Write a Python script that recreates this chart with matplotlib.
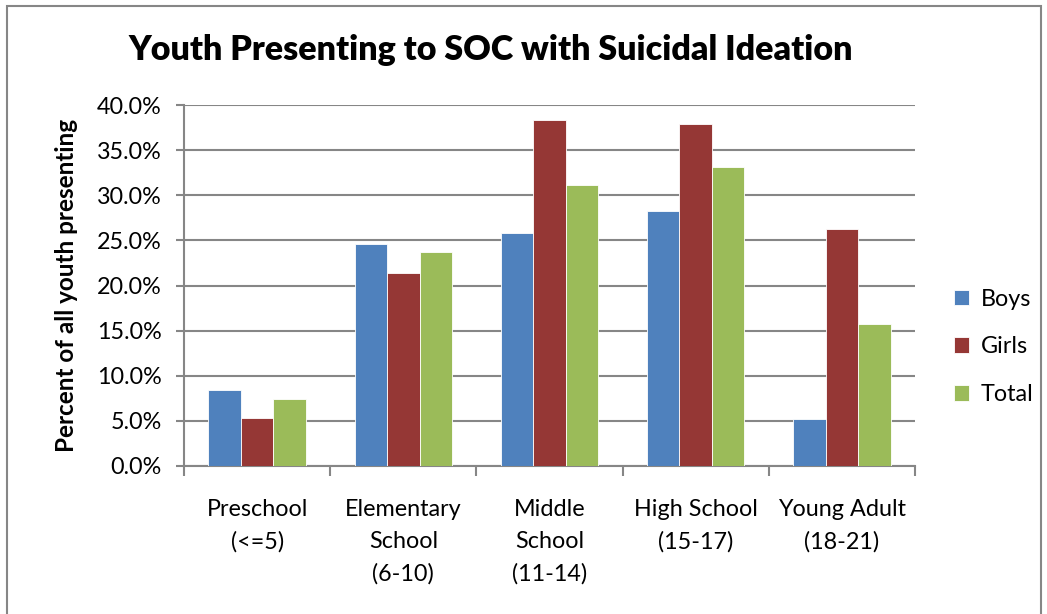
import matplotlib

matplotlib.use("Agg")
import matplotlib.pyplot as plt  # noqa: E402
import numpy as np  # noqa: E402
from matplotlib.patches import Rectangle  # noqa: E402
from matplotlib.ticker import FuncFormatter, MultipleLocator  # noqa: E402

# data (percent of all youth presenting)
categories = ["Preschool\n(<=5)", "Elementary\nSchool\n(6-10)",
              "Middle\nSchool\n(11-14)", "High School\n(15-17)",
              "Young Adult\n(18-21)"]
boys = [8.4, 24.6, 25.8, 28.3, 5.2]
girls = [5.3, 21.4, 38.3, 37.9, 26.3]
total = [7.4, 23.7, 31.1, 33.1, 15.7]

series = [("Boys", boys, "#4f81bd"), ("Girls", girls, "#953735"),
          ("Total", total, "#9bbb59")]

GRID = "#868686"
FONT = ["Lato", "DejaVu Sans"]
plt.rcParams["font.family"] = FONT
FS = 16.8

W, H = 1047, 614
fig = plt.figure(figsize=(W / 100, H / 100), dpi=100)
ax = fig.add_axes([184 / W, 1 - 466 / H, (915 - 184) / W, (466 - 105) / H])

x = np.arange(len(categories))
width = 2 / 9
for i, (name, vals, color) in enumerate(series):
    ax.bar(x + (i - 1) * width, vals, width, color=color, label=name,
           edgecolor="white", linewidth=0.6, zorder=3)

ax.set_xlim(-0.5, len(categories) - 0.5)
ax.set_ylim(0, 40)
ax.yaxis.set_major_locator(MultipleLocator(5))
ax.yaxis.set_major_formatter(FuncFormatter(lambda v, _: f"{v:.1f}%"))
ax.grid(axis="y", color=GRID, linewidth=1.5, zorder=0)
ax.set_axisbelow(True)

# category boundaries get the tick marks, labels sit in the middle
ax.set_xticks(np.arange(len(categories) + 1) - 0.5)
ax.set_xticklabels([])
ax.set_xticks(x, minor=True)
ax.set_xticklabels(categories, minor=True, fontsize=FS, linespacing=1.62,
                   va="top")
ax.tick_params(axis="x", which="minor", length=0, pad=24)
ax.tick_params(axis="x", which="major", length=7, width=1.5, color=GRID)
ax.tick_params(axis="y", length=6, width=1.5, color=GRID, labelsize=FS,
               pad=10)

for side in ("top", "right"):
    ax.spines[side].set_visible(False)
for side in ("left", "bottom"):
    ax.spines[side].set_color(GRID)
    ax.spines[side].set_linewidth(1.5)

ax.set_ylabel("Percent of all youth presenting", fontsize=17.5,
              fontweight="bold", labelpad=14)

fig.text(491 / W, 1 - 50 / H, "Youth Presenting to SOC with Suicidal Ideation",
         ha="center", va="center", fontsize=24.5, fontweight="heavy")

ax.legend(loc="center left", bbox_to_anchor=(1.025, 0.33), frameon=False,
          fontsize=FS, handlelength=0.65, handleheight=0.65,
          labelspacing=1.15, handletextpad=0.5)

fig.patches.append(Rectangle((7 / W, -0.05), (1041 - 7) / W, 1.05 - 6 / H,
                             transform=fig.transFigure, fill=False,
                             edgecolor=GRID, linewidth=1.5))

fig.savefig("out.png", dpi=100)
